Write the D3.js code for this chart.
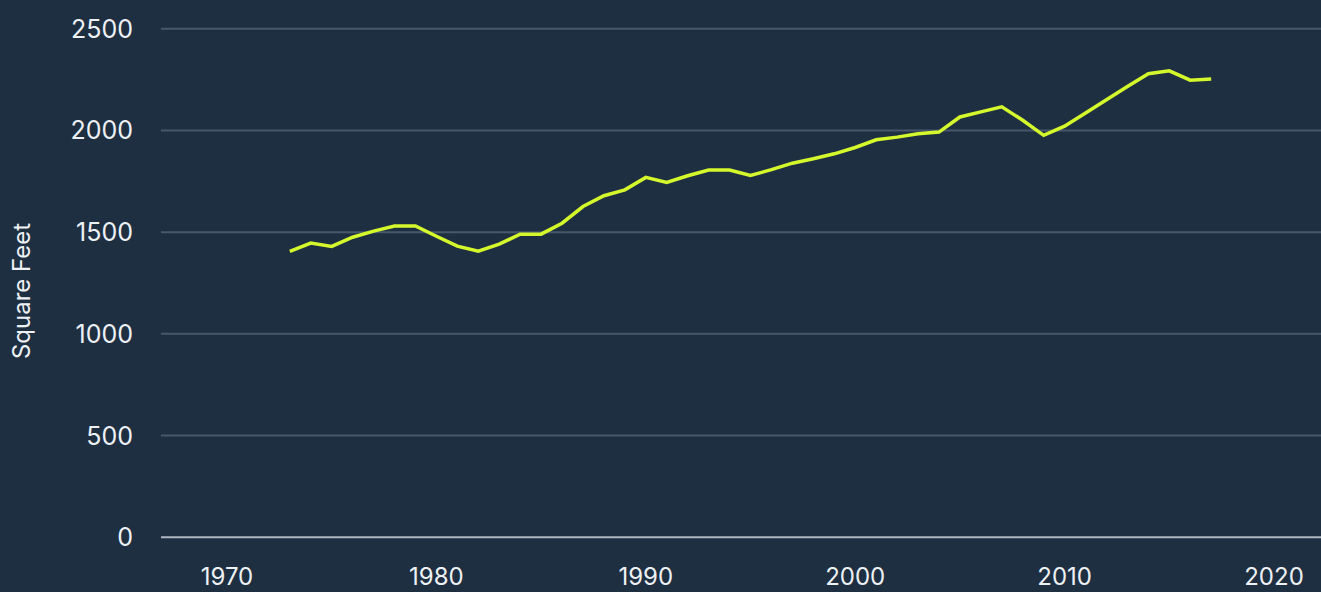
<!DOCTYPE html>
<html>
<head>
<meta charset="utf-8">
<script src="https://cdn.jsdelivr.net/npm/d3@7"></script>
<style>
  html, body { margin: 0; padding: 0; background: #1e2f42; }
  svg { display: block; }
  text { font-family: Inter, "Open Sans", sans-serif; }
</style>
</head>
<body>
<svg id="chart" width="1321" height="592"></svg>
<script>
const years = [1973,1974,1975,1976,1977,1978,1979,1980,1981,1982,1983,1984,1985,1986,1987,1988,1989,1990,1991,1992,1993,1994,1995,1996,1997,1998,1999,2000,2001,2002,2003,2004,2005,2006,2007,2008,2009,2010,2011,2012,2013,2014,2015,2016,2017];
const sqft  = [1406,1446,1430,1475,1505,1530,1530,1480,1431,1406,1441,1490,1490,1544,1626,1679,1708,1769,1744,1777,1805,1805,1779,1807,1839,1861,1885,1916,1954,1967,1984,1992,2066,2091,2116,2050,1976,2021,2086,2151,2216,2279,2293,2247,2253];
const yTicks = [0,500,1000,1500,2000,2500];
const xTicks = [1970,1980,1990,2000,2010,2020];
const yAxisTitle = "Square Feet";

const W = 1321, H = 592;
const svg = d3.select("#chart");
svg.append("rect").attr("width", W).attr("height", H).attr("fill", "#1e2f42");

const x = d3.scaleLinear().domain([1970, 2020]).range([227, 1274]);
const y = d3.scaleLinear().domain([0, 2500]).range([537.3, 28.7]);
const gridLeft = 161, gridRight = 1321;

// gridlines
svg.append("g").selectAll("line").data(yTicks).join("line")
  .attr("x1", gridLeft).attr("x2", gridRight)
  .attr("y1", d => y(d)).attr("y2", d => y(d))
  .attr("stroke", d => d === 0 ? "#aeb6c2" : "#48576a")
  .attr("stroke-width", 2);

// y tick labels
svg.append("g").selectAll("text").data(yTicks).join("text")
  .attr("x", 133).attr("y", d => y(d))
  .attr("text-anchor", "end").attr("dominant-baseline", "central")
  .attr("fill", "#eef1f4").attr("font-size", 25)
  .text(d => d);

// x tick labels
svg.append("g").selectAll("text").data(xTicks).join("text")
  .attr("x", d => x(d)).attr("y", 585)
  .attr("text-anchor", "middle")
  .attr("fill", "#eef1f4").attr("font-size", 24)
  .text(d => d);

// y axis title
svg.append("text")
  .attr("transform", "translate(30,291) rotate(-90)")
  .attr("text-anchor", "middle")
  .attr("fill", "#eef1f4").attr("font-size", 24)
  .text(yAxisTitle);

// line
const data = years.map((yr, i) => ({yr, v: sqft[i]}));
svg.append("path").datum(data)
  .attr("fill", "none")
  .attr("stroke", "#d4f82c")
  .attr("stroke-width", 3.5)
  .attr("stroke-linejoin", "miter")
  .attr("d", d3.line().x(d => x(d.yr)).y(d => y(d.v)));
</script>
</body>
</html>
